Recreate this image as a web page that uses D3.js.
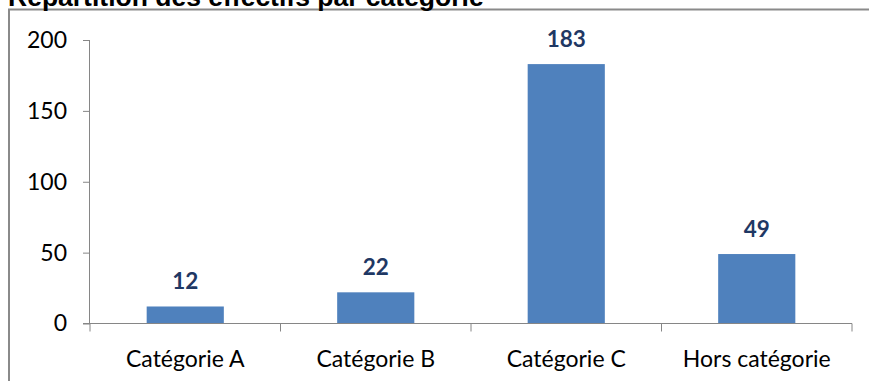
<!DOCTYPE html>
<html>
<head>
<meta charset="utf-8">
<script src="https://cdn.jsdelivr.net/npm/d3@7"></script>
<style>
  html, body { margin: 0; padding: 0; background: #fff; }
  svg { display: block; }
</style>
</head>
<body>
<svg id="chart" width="869" height="381"></svg>
<script>
// Effectifs par catégorie
const categories = ["Catégorie A", "Catégorie B", "Catégorie C", "Hors catégorie"];
const effectifs = [12, 22, 183, 49];
const yTicks = [0, 50, 100, 150, 200];
const title = "Répartition des effectifs par catégorie";

const svg = d3.select("#chart");
const W = 869, H = 381;

const plotLeft = 90, plotRight = 852, plotTop = 40, plotBottom = 323.5;

const x = d3.scaleBand().domain(categories).range([plotLeft, plotRight]).paddingInner(0).paddingOuter(0);
const y = d3.scaleLinear().domain([0, 200]).range([plotBottom, plotTop]);

const axisColor = "#868686";
const labelFont = "Lato, 'Open Sans', sans-serif";

// chart frame
svg.append("path")
  .attr("d", `M9,${H + 2} V9.5 H${W + 2}`)
  .attr("fill", "none")
  .attr("stroke", "#8a8a8a")
  .attr("stroke-width", 2);

// title, sitting above the frame
svg.append("text")
  .attr("x", 8)
  .attr("y", 6)
  .attr("font-family", "'Liberation Sans', Arial, sans-serif")
  .attr("font-weight", "bold")
  .attr("font-size", 26.5)
  .attr("fill", "#000")
  .text(title);

// y axis
const yAxis = d3.axisLeft(y).tickValues(yTicks).tickSize(7).tickPadding(16).tickFormat(d3.format("d"));
const gy = svg.append("g").attr("transform", `translate(${plotLeft},0)`).call(yAxis);
gy.select(".domain").attr("stroke", axisColor).attr("d", `M-0.5,${plotTop}V${plotBottom}`);
gy.selectAll(".tick line").attr("stroke", axisColor);
gy.selectAll(".tick text")
  .attr("font-family", labelFont)
  .attr("font-size", 23)
  .attr("fill", "#000");

// bars
const barW = x.bandwidth() * 0.405;
svg.append("g").selectAll("rect")
  .data(effectifs)
  .join("rect")
  .attr("x", (d, i) => x(categories[i]) + (x.bandwidth() - barW) / 2)
  .attr("y", d => y(d))
  .attr("width", barW)
  .attr("height", d => y(0) - y(d))
  .attr("fill", "#4f81bd");

// x axis
const gx = svg.append("g").attr("transform", `translate(0,${plotBottom})`);
gx.append("line")
  .attr("x1", plotLeft - 7).attr("x2", plotRight)
  .attr("y1", 0).attr("y2", 0)
  .attr("stroke", axisColor);
const bounds = categories.map(c => x(c)).concat([x(categories[categories.length - 1]) + x.bandwidth()]);
gx.selectAll("line.sep")
  .data(bounds)
  .join("line")
  .attr("class", "sep")
  .attr("x1", d => d).attr("x2", d => d)
  .attr("y1", 0).attr("y2", 8)
  .attr("stroke", axisColor);
gx.selectAll("text")
  .data(categories)
  .join("text")
  .attr("x", d => x(d) + x.bandwidth() / 2)
  .attr("y", 367 - plotBottom)
  .attr("text-anchor", "middle")
  .attr("font-family", labelFont)
  .attr("font-size", 23)
  .attr("fill", "#000")
  .text(d => d);

// value labels
svg.append("g").selectAll("text")
  .data(effectifs)
  .join("text")
  .attr("x", (d, i) => x(categories[i]) + x.bandwidth() / 2)
  .attr("y", d => y(d) - 17)
  .attr("text-anchor", "middle")
  .attr("font-family", labelFont)
  .attr("font-weight", "bold")
  .attr("font-size", 22.5)
  .attr("fill", "#1f3864")
  .text(d => d);
</script>
</body>
</html>
